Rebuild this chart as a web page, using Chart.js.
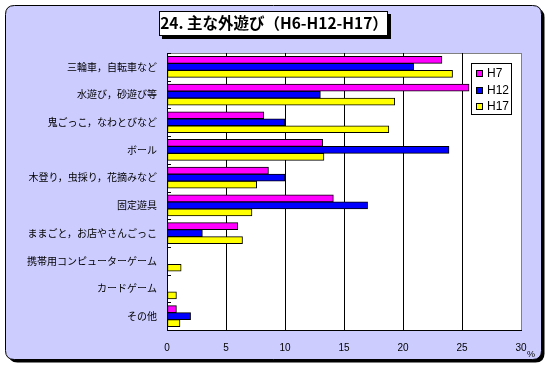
<!DOCTYPE html>
<html>
<head>
<meta charset="utf-8">
<script src="https://cdn.jsdelivr.net/npm/chart.js@4/dist/chart.umd.min.js"></script>
<style>
  html, body { margin: 0; padding: 0; background: #ffffff; }
  #wrap { width: 548px; height: 368px; }
</style>
</head>
<body>
<div id="wrap"><canvas id="playChart" width="548" height="368"></canvas></div>
<script>
// 主な外遊び（%）
const categories = ['三輪車，自転車など', '水遊び，砂遊び等', '鬼ごっこ，なわとびなど', 'ボール', '木登り，虫採り，花摘みなど', '固定遊具', 'ままごと，お店やさんごっこ', '携帯用コンピューターゲーム', 'カードゲーム', 'その他'];
const seriesNames = ['H7', 'H12', 'H17'];
const h7 = [23.3, 25.6, 8.2, 13.2, 8.6, 14.1, 6.0, 0, 0, 0.8];
const h12 = [20.9, 13.0, 10.0, 23.9, 10.0, 17.0, 3.0, 0, 0, 2.0];
const h17 = [24.2, 19.3, 18.8, 13.3, 7.6, 7.2, 6.4, 1.2, 0.8, 1.1];
const xTicks = [0, 5, 10, 15, 20, 25, 30];
const titleText = '24. 主な外遊び（H6-H12-H17）';

const colors = ['#ff00ff', '#0000ff', '#ffff00'];
const jpFont = '"Noto Sans CJK JP", sans-serif';

function roundRect(ctx, x, y, w, h, r) {
	ctx.beginPath();
	ctx.moveTo(x + r, y);
	ctx.lineTo(x + w - r, y);
	ctx.quadraticCurveTo(x + w, y, x + w, y + r);
	ctx.lineTo(x + w, y + h - r);
	ctx.quadraticCurveTo(x + w, y + h, x + w - r, y + h);
	ctx.lineTo(x + r, y + h);
	ctx.quadraticCurveTo(x, y + h, x, y + h - r);
	ctx.lineTo(x, y + r);
	ctx.quadraticCurveTo(x, y, x + r, y);
	ctx.closePath();
}

// 背景の枠・タイトル枠・プロット領域
const framePlugin = {
	id: 'framePlugin',
	afterLayout(chart) {
		// タイトルはキャンバス全幅で中央に
		const t = chart.titleBlock;
		if (t) {
			t.left = 0;
			t.right = chart.width;
			t.width = chart.width;
		}
	},
	beforeDraw(chart) {
		const ctx = chart.ctx;
		const a = chart.chartArea;
		ctx.save();
		ctx.fillStyle = '#ffffff';
		ctx.fillRect(0, 0, chart.width, chart.height);
		// 外枠の影
		ctx.fillStyle = '#000000';
		roundRect(ctx, 8.5, 8.5, 536, 354, 9);
		ctx.fill();
		ctx.fillStyle = '#ccccff';
		roundRect(ctx, 5.5, 5.5, 536, 354, 9);
		ctx.fill();
		ctx.strokeStyle = '#000000';
		ctx.lineWidth = 1;
		ctx.stroke();
		// タイトル枠
		ctx.fillStyle = '#000000';
		ctx.fillRect(162, 14, 229, 25);
		ctx.fillStyle = '#ffffff';
		ctx.fillRect(159, 11, 229, 25);
		ctx.strokeRect(159.5, 11.5, 228, 24);
		// プロット領域
		ctx.fillStyle = '#ffffff';
		ctx.fillRect(a.left, a.top, a.right - a.left, a.bottom - a.top);
		ctx.strokeStyle = '#808080';
		ctx.strokeRect(Math.round(a.left) + 0.5, Math.round(a.top) + 0.5, Math.round(a.right - a.left), Math.round(a.bottom - a.top));
		ctx.restore();
	},
	afterDraw(chart) {
		const ctx = chart.ctx;
		const a = chart.chartArea;
		const yScale = chart.scales.y;
		ctx.save();
		// 項目境界の目盛り（内側）
		ctx.strokeStyle = '#000000';
		ctx.lineWidth = 1;
		const n = categories.length;
		const step = (yScale.bottom - yScale.top) / n;
		for (let i = 0; i < n; i++) {
			const yy = Math.round(yScale.top + i * step) + 0.5;
			ctx.beginPath();
			ctx.moveTo(a.left, yy);
			ctx.lineTo(a.left + 4, yy);
			ctx.stroke();
		}
		// 凡例
		const lx = 471, ly = 63, lw = 40, lh = 51;
		ctx.fillStyle = '#ffffff';
		ctx.fillRect(lx, ly, lw, lh);
		ctx.strokeRect(lx + 0.5, ly + 0.5, lw, lh);
		ctx.font = '12px "Liberation Sans", Arial, sans-serif';
		ctx.textBaseline = 'middle';
		chart.data.datasets.forEach((ds, i) => {
			const cy = 73 + i * 16.5;
			ctx.fillStyle = ds.backgroundColor;
			ctx.fillRect(476, Math.round(cy - 3), 7, 7);
			ctx.strokeStyle = '#000000';
			ctx.strokeRect(476.5, Math.round(cy - 3) + 0.5, 6, 6);
			ctx.fillStyle = '#000000';
			ctx.fillText(ds.label, 487, cy + 1);
		});
		// 単位
		const xScale = chart.scales.x;
		const px = xScale.getPixelForValue(30);
		ctx.font = '9px "Liberation Sans", Arial, sans-serif';
		ctx.textBaseline = 'alphabetic';
		ctx.fillText('%', px + 6, 357);
		ctx.restore();
	}
};

const ctx = document.getElementById('playChart').getContext('2d');
const myChart = new Chart(ctx, {
	type: 'bar',
	data: {
		labels: categories,
		datasets: [
			{ label: seriesNames[0], data: h7, backgroundColor: colors[0] },
			{ label: seriesNames[1], data: h12, backgroundColor: colors[1] },
			{ label: seriesNames[2], data: h17, backgroundColor: colors[2] }
		]
	},
	options: {
		indexAxis: 'y',
		responsive: false,
		animation: false,
		layout: {
			padding: { left: 0, right: 27, top: 0, bottom: 0 }
		},
		datasets: {
			bar: {
				borderColor: '#000000',
				borderWidth: 1,
				borderSkipped: false,
				barThickness: 7,
				categoryPercentage: 0.76,
				barPercentage: 1
			}
		},
		plugins: {
			legend: { display: false },
			tooltip: { enabled: false },
			title: {
				display: true,
				text: titleText,
				color: '#000000',
				font: { family: jpFont, size: 15.5, weight: 'bold', lineHeight: 1.2 },
				padding: { top: 14, bottom: 20.4 }
			}
		},
		scales: {
			x: {
				min: 0,
				max: 30,
				afterFit(scale) { scale.height = 38; },
				afterBuildTicks(scale) { scale.ticks = xTicks.map(v => ({ value: v })); },
				ticks: {
					color: '#000000',
					padding: 12,
					maxRotation: 0,
					font: { family: '"Liberation Sans", Arial, sans-serif', size: 10 }
				},
				grid: {
					drawTicks: false,
					color: (c) => (c.tick && c.tick.value === 30 ? '#808080' : '#000000'),
					lineWidth: 1
				},
				border: { display: true, color: '#000000', width: 1 }
			},
			y: {
				afterFit(scale) { scale.width = 167; },
				ticks: {
					color: '#000000',
					padding: 10,
					autoSkip: false,
					font: { family: jpFont, size: 10 }
				},
				grid: { display: false, drawTicks: false },
				border: { display: true, color: '#000000', width: 1 }
			}
		}
	},
	plugins: [framePlugin]
});
</script>
</body>
</html>
